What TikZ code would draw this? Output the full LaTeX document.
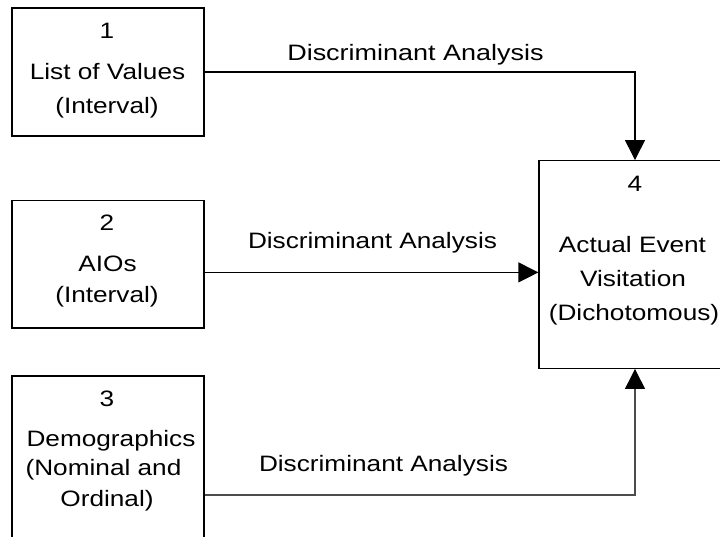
\documentclass[tikz,border=0pt]{standalone}
\usepackage{fontspec}
\setmainfont{Liberation Sans}[FakeStretch=1.175]
\usetikzlibrary{arrows.meta}
\begin{document}
\begin{tikzpicture}[x=1pt,y=-1pt,
  box/.style={draw=black,line width=1.3pt,rectangle,minimum width=192pt,inner sep=0pt},
  txt/.style={anchor=base,inner sep=0pt,font=\fontsize{22.3}{26}\selectfont},
  flow/.style={draw=black,line width=1.3pt,-{Triangle[length=20pt,width=20pt,color=black]}}]
\useasboundingbox (0,0) rectangle (720,536);

% boxes
\node[box,minimum height=128pt]   (b1) at (108,72) {};
\node[box,minimum height=127.3pt] (b2) at (108,264.4) {};
\node[box,minimum height=238pt]   (b3) at (108,495) {};
\node[box,minimum height=207.6pt] (b4) at (635,264.5) {};

% box texts
\node[txt] (t1n) at (107,38) {1};
\node[txt] (t1a) at (107.5,79) {List of Values};
\node[txt] (t1b) at (107,113) {(Interval)};

\node[txt] (t2n) at (107,230) {2};
\node[txt] (t2a) at (107.5,271.7) {AIOs};
\node[txt] (t2b) at (107,302) {(Interval)};

\node[txt] (t3n) at (107,406.7) {3};
\node[txt] (t3a) at (111,446) {Demographics};
\node[txt] (t3b) at (103.5,475.5) {(Nominal and};
\node[txt] (t3c) at (107,506.7) {Ordinal)};

\node[txt] (t4n) at (635,191.7) {4};
\node[txt] (t4a) at (632.5,252.7) {Actual Event};
\node[txt] (t4b) at (633,286.7) {Visitation};
\node[txt] (t4c) at (634,320) {(Dichotomous)};

% connectors
\draw[flow] (b1.east) -| (b4.north);
\draw[flow] ([yshift=-8pt]b2.east) -- ([yshift=-8pt]b2.east -| b4.west);
\draw[flow,draw=black!70] (b3.east) -| (b4.south);

% connector labels
\node[txt,xscale=1.03] (l1) at (415.5,60.7) {Discriminant Analysis};
\node[txt] (l2) at (372.5,248.3) {Discriminant Analysis};
\node[txt] (l3) at (383.5,471.7) {Discriminant Analysis};
\end{tikzpicture}
\end{document}
